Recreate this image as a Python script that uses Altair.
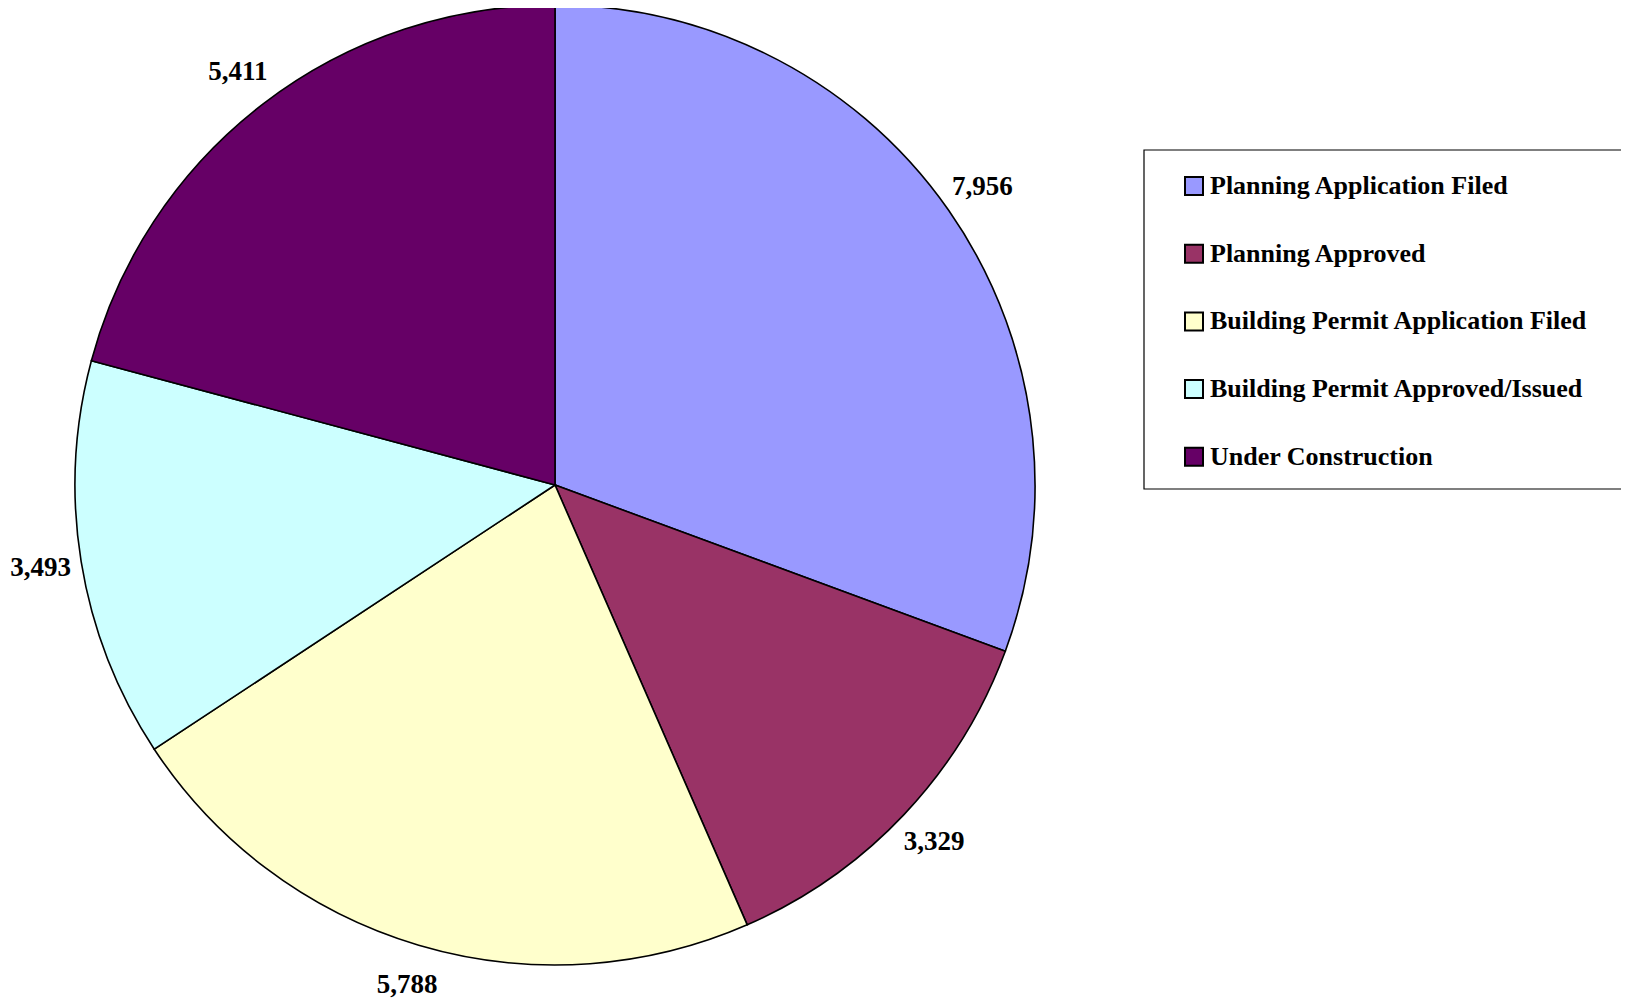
import altair as alt
import pandas as pd

categories = [
    "Planning Application Filed",
    "Planning Approved",
    "Building Permit Application Filed",
    "Building Permit Approved/Issued",
    "Under Construction",
]
values = [7956, 3329, 5788, 3493, 5411]
colors = ["#9999FF", "#993366", "#FFFFCC", "#CCFFFF", "#660066"]

df = pd.DataFrame({
    "category": categories,
    "value": values,
    "order": list(range(len(categories))),
})
df["label"] = df["value"].map(lambda v: f"{v:,}")

FONT = "Liberation Serif"
CX, CY, R = 547, 477, 480

base = alt.Chart(df).encode(
    theta=alt.Theta("value:Q", stack=True),
    order=alt.Order("order:Q"),
    x=alt.value(CX),
    y=alt.value(CY),
)

frame = alt.Chart(pd.DataFrame({"a": [0]})).mark_rect(
    fill="white", stroke="black", strokeWidth=1.2
).encode(
    x=alt.value(1136), x2=alt.value(1660), y=alt.value(142), y2=alt.value(481)
)

arcs = base.mark_arc(outerRadius=R, stroke="black", strokeWidth=1.6).encode(
    color=alt.Color(
        "category:N",
        scale=alt.Scale(domain=categories, range=colors),
        legend=alt.Legend(
            title=None,
            orient="none",
            legendX=1173,
            legendY=165,
            padding=0,
            symbolType="square",
            symbolSize=324,
            symbolStrokeColor="black",
            symbolStrokeWidth=2,
            symbolOpacity=1,
            labelFont=FONT,
            labelFontSize=26,
            labelFontWeight="bold",
            labelColor="black",
            labelOffset=3,
            rowPadding=41.7,
            labelLimit=600,
        ),
    )
)

labels = base.mark_text(
    radius=521, font=FONT, fontSize=27, fontWeight="bold", color="black",
    align="center", baseline="middle"
).encode(text="label:N")

chart = alt.layer(frame, arcs, labels).properties(
    width=1613, height=990, padding=0,
    autosize=alt.AutoSizeParams(type="none"),
).configure_view(stroke=None)

chart.save("out.html", embed_options={"renderer": "svg", "actions": False})
